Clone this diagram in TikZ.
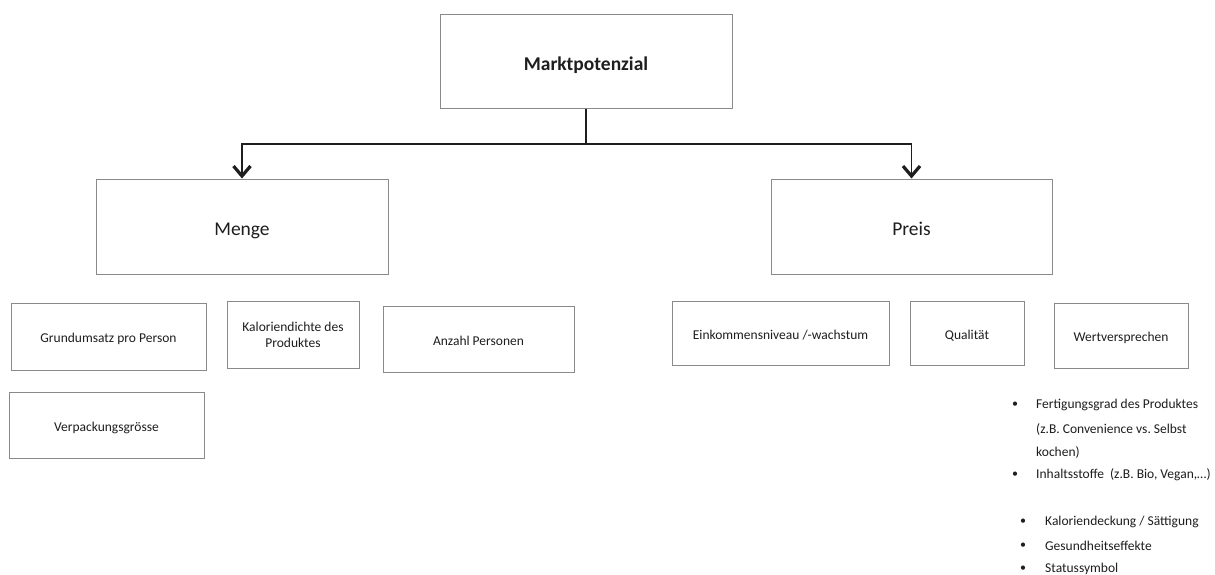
\documentclass[tikz,border=0pt]{standalone}
\usepackage{fontspec}
\setmainfont{Carlito}
\usetikzlibrary{arrows.meta}
\definecolor{boxline}{HTML}{8A8A8A}
\definecolor{ink}{HTML}{1E1E1E}
\frenchspacing
\begin{document}
\begin{tikzpicture}[x=1pt,y=1pt,
  frame/.style={draw=boxline, line width=1pt, inner sep=0pt, align=center,
    text=ink, font=\fontsize{13.5}{16}\selectfont},
  box/.style={frame, text height=13pt, text depth=1pt},
  bigbox/.style={frame, font=\fontsize{19.5}{23}\selectfont, text height=19pt, text depth=2pt},
  conn/.style={draw=ink, line width=1.8pt},
  arr/.style={conn, -{Straight Barb[length=10pt,width=17pt,line width=3.2pt]}},
  item/.style={anchor=west, inner sep=0pt, text=ink, font=\fontsize{13.5}{16}\selectfont},
  dot/.style={inner sep=0pt, text=ink, font=\fontsize{12}{14}\selectfont}]
\useasboundingbox[fill=white] (0,0) rectangle (1215,-574);

% top level
\node[bigbox, text depth=1pt, minimum width=292, minimum height=94] (mark) at (586,-61) {\textbf{Marktpotenzial}};

% second level
\node[bigbox, minimum width=292, minimum height=95] (menge) at (242,-226.5) {Menge};
\node[bigbox, minimum width=281, minimum height=95] (preis) at (911.5,-226.5) {Preis};

% connectors
\coordinate (j) at (586,-144);
\draw[conn] (mark.south) -- (j);
\draw[arr] (j) -| (menge.north);
\draw[arr] (j) -| (preis.north);

% factors of Menge
\node[box, minimum width=195, minimum height=67] (grund) at (108.5,-336.5) {Grundumsatz pro Person};
\node[frame, minimum width=132, minimum height=67] (kal) at (293,-335) {Kaloriendichte des\\Produktes};
\node[box, minimum width=191, minimum height=66] (anz) at (478.5,-339) {Anzahl Personen};
\node[box, minimum width=195, minimum height=66] (verp) at (106.5,-425) {Verpackungsgrösse};

% factors of Preis
\node[box, minimum width=217, minimum height=64] (eink) at (780.5,-333) {Einkommensniveau /-wachstum};
\node[box, minimum width=114, minimum height=64] (qual) at (967,-333) {Qualität};
\node[box, minimum width=134, minimum height=65] (wert) at (1121,-335.5) {Wertversprechen};

% notes on Wertversprechen
\node[dot] (d1) at (1015,-405) {•};
\node[item] (l1) at (1036,-405) {Fertigungsgrad des Produktes};
\node[item] (l2) at (1036,-429) {(z.B. Convenience vs. Selbst};
\node[item] (l3) at (1036,-452) {kochen)};
\node[dot] (d2) at (1015,-475) {•};
\node[item] (l4) at (1036,-475) {Inhaltsstoffe\ \ (z.B. Bio, Vegan,…)};

\node[dot] (d3) at (1023,-522) {•};
\node[item] (l5) at (1045,-522) {Kaloriendeckung / Sättigung};
\node[dot] (d4) at (1023,-546) {•};
\node[item] (l6) at (1045,-546) {Gesundheitseffekte};
\node[dot] (d5) at (1023,-569) {•};
\node[item] (l7) at (1045,-569) {Statussymbol};
\end{tikzpicture}
\end{document}
